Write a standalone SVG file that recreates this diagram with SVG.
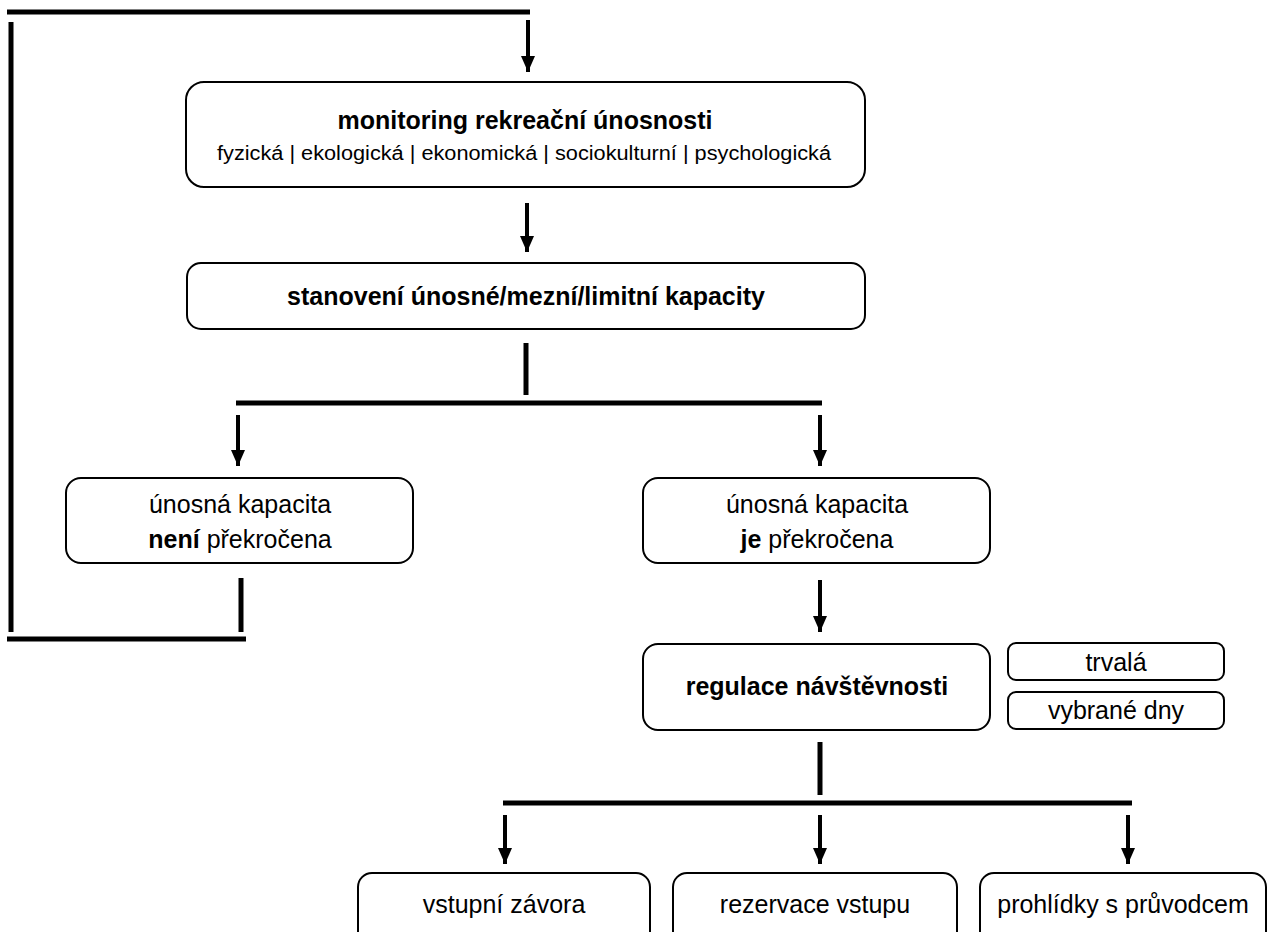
<svg xmlns="http://www.w3.org/2000/svg" width="1268" height="932" viewBox="0 0 1268 932">
<style>
.box{fill:#fff;stroke:#000;stroke-width:2}
.t{font-family:"Liberation Sans",Arial,sans-serif;font-size:25px;fill:#000;text-anchor:middle}
.b{font-weight:bold}
.s{font-size:20px}
.bar{stroke:#000;stroke-width:5;fill:none}
.arr{stroke:#000;stroke-width:4;fill:none;marker-end:url(#ah)}
</style>
<defs>
<marker id="ah" viewBox="0 0 16 14" refX="16" refY="7" markerWidth="16" markerHeight="14" markerUnits="userSpaceOnUse" orient="auto">
<path d="M0,0 L16,7 L0,14 z" fill="#000"/>
</marker>
</defs>
<rect width="1268" height="932" fill="#fff"/>
<g id="connectors">
<line class="bar" x1="7" y1="12" x2="530" y2="12"/>
<line class="bar" x1="11" y1="22" x2="11" y2="632"/>
<line class="bar" x1="7" y1="639" x2="246" y2="639"/>
<line class="bar" x1="241" y1="578" x2="241" y2="632"/>
<line class="arr" x1="528" y1="20" x2="528" y2="72"/>
<line class="arr" x1="527" y1="203" x2="527" y2="252"/>
<line class="bar" x1="526" y1="343" x2="526" y2="395"/>
<line class="bar" x1="236" y1="403" x2="822" y2="403"/>
<line class="arr" x1="238" y1="415" x2="238" y2="466"/>
<line class="arr" x1="820" y1="415" x2="820" y2="466"/>
<line class="arr" x1="820" y1="580" x2="820" y2="632"/>
<line class="bar" x1="820" y1="742" x2="820" y2="795"/>
<line class="bar" x1="503" y1="803" x2="1132" y2="803"/>
<line class="arr" x1="505" y1="815" x2="505" y2="864"/>
<line class="arr" x1="820" y1="815" x2="820" y2="864"/>
<line class="arr" x1="1128" y1="815" x2="1128" y2="864"/>
</g>
<g id="monitoring">
<rect class="box" x="186" y="82" width="679" height="105" rx="18"/>
<text class="t b" x="525" y="129">monitoring rekreační únosnosti</text>
<text class="t s" x="524" y="160" textLength="614" lengthAdjust="spacingAndGlyphs">fyzická | ekologická | ekonomická | sociokulturní | psychologická</text>
</g>
<g id="stanoveni">
<rect class="box" x="187" y="263" width="678" height="66" rx="14"/>
<text class="t b" x="526" y="305">stanovení únosné/mezní/limitní kapacity</text>
</g>
<g id="neni">
<rect class="box" x="66" y="478" width="347" height="85" rx="15"/>
<text class="t" x="240" y="513">únosná kapacita</text>
<text class="t" x="240" y="548"><tspan class="b">není</tspan> překročena</text>
</g>
<g id="je">
<rect class="box" x="643" y="478" width="347" height="85" rx="15"/>
<text class="t" x="817" y="513">únosná kapacita</text>
<text class="t" x="817" y="548"><tspan class="b">je</tspan> překročena</text>
</g>
<g id="regulace">
<rect class="box" x="643" y="644" width="347" height="86" rx="15"/>
<text class="t b" x="817" y="695">regulace návštěvnosti</text>
</g>
<g id="trvala">
<rect class="box" x="1008" y="643" width="216" height="37" rx="8"/>
<text class="t" x="1116" y="671">trvalá</text>
</g>
<g id="vybrane">
<rect class="box" x="1008" y="692" width="216" height="37" rx="8"/>
<text class="t" x="1116" y="719">vybrané dny</text>
</g>
<g id="zavora">
<rect class="box" x="358" y="873" width="292" height="80" rx="14"/>
<text class="t" x="504" y="913">vstupní závora</text>
</g>
<g id="rezervace">
<rect class="box" x="673" y="873" width="284" height="80" rx="14"/>
<text class="t" x="815" y="913">rezervace vstupu</text>
</g>
<g id="prohlidky">
<rect class="box" x="980" y="873" width="286" height="80" rx="14"/>
<text class="t" x="1123" y="913">prohlídky s průvodcem</text>
</g>
</svg>
